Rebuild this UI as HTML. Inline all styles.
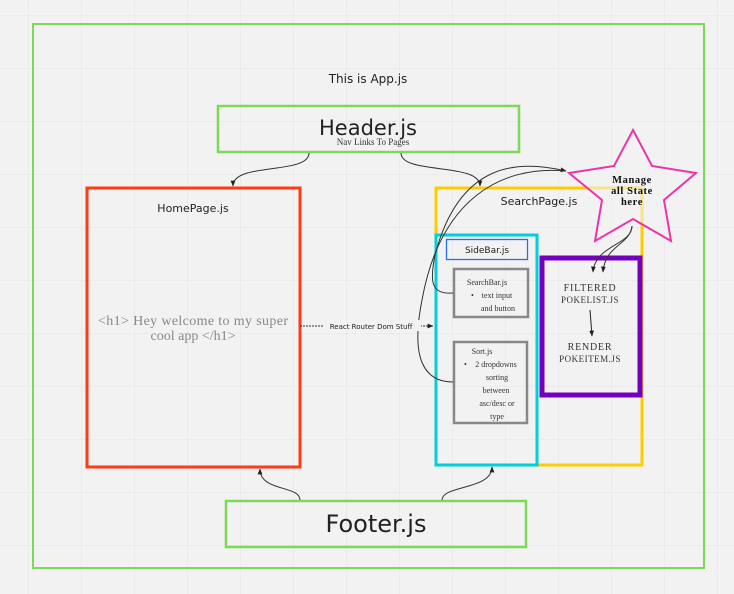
<!DOCTYPE html>
<html><head><meta charset="utf-8"><style>
html,body{margin:0;padding:0;background:#f2f2f2;}
svg{display:block;}
.s{font-family:"DejaVu Sans","Liberation Sans",sans-serif;fill:#222;}
.g{font-family:"Liberation Serif",serif;fill:#333;}
</style></head><body>
<svg width="734" height="594" viewBox="0 0 734 594" xmlns="http://www.w3.org/2000/svg">
<defs>
<pattern id="grid" x="28" y="15" width="53" height="53" patternUnits="userSpaceOnUse">
<path d="M0 0 H53 M0 0 V53" stroke="#e4e4e4" stroke-width="1" fill="none"/>
</pattern>
<marker id="ar" viewBox="0 0 10 10" refX="9" refY="5" markerWidth="6" markerHeight="6" orient="auto-start-reverse">
<path d="M0 1 L10 5 L0 9 z" fill="#222"/>
</marker>
</defs>
<rect width="734" height="594" fill="url(#grid)"/>
<rect x="33" y="24" width="671" height="544" fill="none" stroke="#7ed957" stroke-width="2"/>
<text x="368" y="83" class="s" font-size="12" text-anchor="middle">This is App.js</text>

<rect x="218" y="106" width="301" height="46" fill="none" stroke="#7ed957" stroke-width="2.5"/>
<text x="368" y="135" class="s" font-size="21" text-anchor="middle">Header.js</text>
<text x="373" y="145" class="g" font-size="9" text-anchor="middle">Nav Links To Pages</text>

<rect x="87" y="188" width="213" height="279" fill="none" stroke="#ff3b1a" stroke-width="3"/>
<text x="193" y="212" class="s" font-size="11" text-anchor="middle">HomePage.js</text>
<text x="193" y="325" class="g" font-size="14" text-anchor="middle" textLength="190" style="fill:#888">&lt;h1&gt; Hey welcome to my super</text>
<text x="193" y="340" class="g" font-size="14" text-anchor="middle" style="fill:#888">cool app &lt;/h1&gt;</text>

<rect x="436" y="188" width="206" height="277" fill="none" stroke="#ffcc00" stroke-width="3"/>
<text x="539" y="205" class="s" font-size="11" text-anchor="middle">SearchPage.js</text>
<rect x="436" y="235" width="101" height="230" fill="none" stroke="#00d0d8" stroke-width="3"/>
<rect x="446.5" y="239.5" width="81" height="20" fill="none" stroke="#2a6ee8" stroke-width="1.3"/>
<text x="487" y="253" class="s" font-size="9" text-anchor="middle">SideBar.js</text>

<rect x="454" y="269" width="74" height="48" fill="none" stroke="#888" stroke-width="2.5"/>
<text x="487" y="285" class="g" font-size="8" text-anchor="middle">SearchBar.js</text>
<text x="471" y="298" class="g" font-size="8">•</text>
<text x="497" y="298" class="g" font-size="8" text-anchor="middle">text input</text>
<text x="498" y="311" class="g" font-size="8" text-anchor="middle">and button</text>

<rect x="454" y="342" width="73" height="81" fill="none" stroke="#888" stroke-width="2.5"/>
<text x="482" y="354" class="g" font-size="8" text-anchor="middle">Sort.js</text>
<text x="464" y="367" class="g" font-size="8">•</text>
<text x="496" y="367" class="g" font-size="8" text-anchor="middle">2 dropdowns</text>
<text x="497" y="380" class="g" font-size="8" text-anchor="middle">sorting</text>
<text x="496" y="393" class="g" font-size="8" text-anchor="middle">between</text>
<text x="497" y="406" class="g" font-size="8" text-anchor="middle">asc/desc or</text>
<text x="497" y="419" class="g" font-size="8" text-anchor="middle">type</text>

<rect x="542" y="258" width="98" height="137" fill="none" stroke="#7400bb" stroke-width="5"/>
<text x="590" y="291" class="g" font-size="10" letter-spacing="0.8" text-anchor="middle">FILTERED</text>
<text x="590" y="303" class="g" font-size="9" letter-spacing="0.5" text-anchor="middle">POKELIST.JS</text>
<text x="590" y="350" class="g" font-size="10" letter-spacing="0.8" text-anchor="middle">RENDER</text>
<text x="590" y="362" class="g" font-size="9" letter-spacing="0.5" text-anchor="middle">POKEITEM.JS</text>
<path d="M590 310 L592 336" stroke="#222" stroke-width="1" fill="none" marker-end="url(#ar)"/>

<polygon points="633,130 652,166 696,173 664,200 671,241 633,219 595,241 602,200 569,173 614,166" fill="#f2f2f2" fill-opacity="0.6" stroke="#ee33aa" stroke-width="2"/>
<text x="632" y="183" class="g" font-size="10.5" font-weight="bold" letter-spacing="0.6" text-anchor="middle" style="fill:#111">Manage</text>
<text x="632" y="194" class="g" font-size="10.5" font-weight="bold" letter-spacing="0.6" text-anchor="middle" style="fill:#111">all State</text>
<text x="632" y="205" class="g" font-size="10.5" font-weight="bold" letter-spacing="0.6" text-anchor="middle" style="fill:#111">here</text>

<rect x="226" y="501" width="300" height="46" fill="none" stroke="#7ed957" stroke-width="2.5"/>
<text x="376" y="532" class="s" font-size="24" text-anchor="middle">Footer.js</text>

<g stroke="#333" stroke-width="1" fill="none">
<path d="M309 153 C309 175 233 162 233 186" marker-end="url(#ar)"/>
<path d="M401 153 C401 175 480 162 480 186" marker-end="url(#ar)"/>
<path d="M300 326 L433 326" stroke-dasharray="2 1" marker-end="url(#ar)"/>
<path d="M300 500 C300 485 260 492 260 469" marker-end="url(#ar)"/>
<path d="M442 500 C442 485 492 490 492 467" marker-end="url(#ar)"/>
<path d="M453 293 C430 295 430 280 435 255 C460 160 520 160 566 171" marker-end="url(#ar)"/>
<path d="M453 382 C425 382 410 360 422 300 C440 200 500 165 566 171"/>
<path d="M632 226 C632 245 595 245 593 272" marker-end="url(#ar)"/>
<path d="M632 226 C630 245 605 245 603 272" marker-end="url(#ar)"/>
</g>
<rect x="323" y="320" width="98" height="11" fill="#f2f2f2"/>
<text x="371" y="329" class="s" font-size="7" text-anchor="middle">React Router Dom Stuff</text>
</svg>
</body></html>
